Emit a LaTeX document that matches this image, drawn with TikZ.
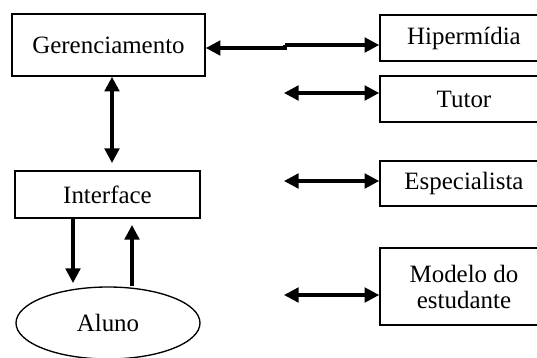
\documentclass[tikz,border=0pt]{standalone}
\usepackage{fontspec}
\setmainfont{Liberation Serif}
\usetikzlibrary{arrows.meta, shapes.geometric}
\begin{document}
\begin{tikzpicture}[x = 0.75pt, y = -0.75pt,
        box/.style = {draw, line width = 1.2pt, rectangle, inner sep = 0pt, align = center,
            font = \fontsize{18.7}{19.5}\selectfont},
        link/.style = {line width = 2.4pt, -{Triangle[length = 11pt, width = 11pt]}},
        links/.style = {link, {Triangle[length = 11pt, width = 11pt]}-{Triangle[length = 11pt, width = 11pt]}}]
        \clip (0, 0) rectangle (537, 358);
        % left column
        \node[box, minimum width = 193*0.75pt, minimum height = 62*0.75pt] (ger) at (108.5, 45) {Gerenciamento};
        \node[box, minimum width = 185*0.75pt, minimum height = 47*0.75pt] (int) at (107.5, 194.5) {Interface};
        \node[box, ellipse, line width = 1pt, minimum width = 184*0.75pt, minimum height = 72*0.75pt] (alu) at (108, 323) {Aluno};
        % right column
        \node[box, minimum width = 168*0.75pt, minimum height = 46*0.75pt] (hip) at (464, 38) {Hipermídia};
        \node[box, minimum width = 168*0.75pt, minimum height = 46*0.75pt] (tut) at (464, 99) {Tutor};
        \node[box, minimum width = 168*0.75pt, minimum height = 45*0.75pt] (esp) at (464, 183.5) {Especialista};
        \node[box, minimum width = 168*0.75pt, minimum height = 77*0.75pt] (mod) at (464, 286.5) {Modelo do\\estudante};
        % free ends
        \coordinate (j1) at (285, 48);
        \coordinate (j2) at (285, 45);
        \coordinate (t0) at (284, 93);
        \coordinate (e0) at (284, 181);
        \coordinate (m0) at (284, 295);
        \coordinate (v0) at (112, 163);
        \coordinate (d0) at (73, 283);
        \coordinate (u0) at (132, 225);
        % connectors
        \draw[line width = 2.4pt, {Triangle[length = 11pt, width = 11pt]}-] (ger.east |- j1) -- (j1) -- (j2);
        \draw[link] (j2) -- (hip.west |- j2);
        \draw[links] (t0) -- (tut.west |- t0);
        \draw[links] (e0) -- (esp.west |- e0);
        \draw[links] (m0) -- (mod.west |- m0);
        \draw[links] (ger.south -| v0) -- (v0);
        \draw[link] (int.south -| d0) -- (d0);
        \draw[link] (alu.north -| u0) -- (u0);
    \end{tikzpicture}
\end{document}
